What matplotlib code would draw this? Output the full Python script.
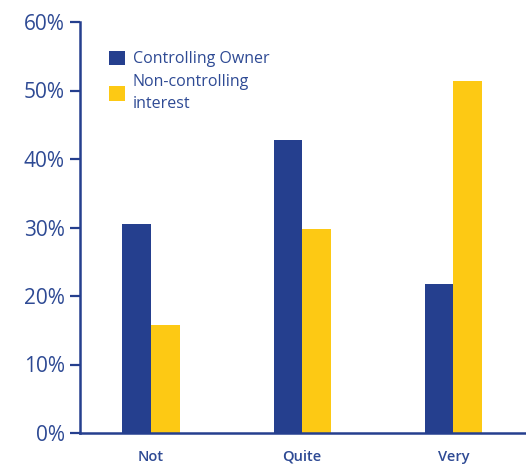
import matplotlib.pyplot as plt
import numpy as np

categories = ['Not', 'Quite', 'Very']
controlling_owner = [30.5, 42.8, 21.8]
non_controlling = [15.8, 29.8, 51.4]
y_ticks = [0, 10, 20, 30, 40, 50, 60]

navy = '#253f8e'
yellow = '#fdc914'
text_col = '#2e4a94'

plt.rcParams['font.family'] = ['Open Sans', 'DejaVu Sans']

fig = plt.figure(figsize=(5.26, 4.68), dpi=100)
ax = fig.add_axes([80 / 526, 35 / 468, 446 / 526, 411 / 468])

x = np.arange(len(categories))
w = 0.19
ax.bar(x - w / 2, controlling_owner, w, color=navy, label='Controlling Owner')
ax.bar(x + w / 2, non_controlling, w, color=yellow, label='Non-controlling\ninterest')

ax.set_xlim(-0.47, 2.48)
ax.set_ylim(0, 60)
ax.set_yticks(y_ticks)
ax.set_yticklabels([f'{t}%' for t in y_ticks], fontsize=15, color=text_col)
ax.set_xticks(x)
ax.set_xticklabels(categories, fontsize=10.5, color=text_col, fontweight='semibold')
ax.tick_params(axis='y', length=7, width=1.6, color=navy, pad=4)
ax.tick_params(axis='x', length=0, pad=12)

for side in ['top', 'right']:
    ax.spines[side].set_visible(False)
for side in ['left', 'bottom']:
    ax.spines[side].set_color(navy)
    ax.spines[side].set_linewidth(1.8)

leg = ax.legend(loc='upper left', bbox_to_anchor=(0.047, 0.95), frameon=False,
                fontsize=11.5, labelcolor=text_col, handlelength=1.0, handleheight=1.0,
                handletextpad=0.5, borderpad=0, labelspacing=0.45)
for t in leg.get_texts():
    t.set_linespacing(1.45)

fig.savefig('out.png', dpi=100)
